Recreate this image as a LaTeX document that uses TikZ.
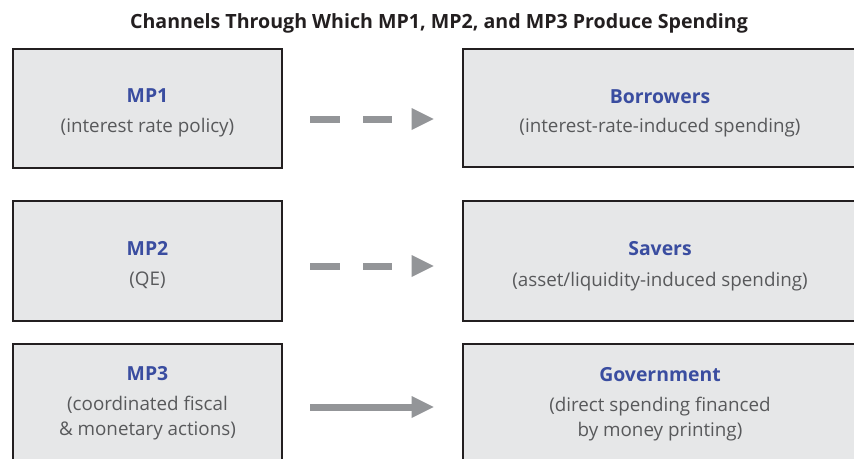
\documentclass[tikz,border=0pt]{standalone}
\usepackage{fontspec}
\setmainfont{Open Sans}
\usetikzlibrary{arrows.meta}
\definecolor{boxfill}{HTML}{E6E7E8}
\definecolor{boxline}{HTML}{231F20}
\definecolor{headblue}{HTML}{3A4DA0}
\definecolor{subgray}{HTML}{58595B}
\definecolor{arrowgray}{HTML}{939598}
\newcommand{\hd}[1]{{\bfseries\color{headblue}\fontsize{19.4}{22}\selectfont #1}}
\begin{document}
\begin{tikzpicture}[x=1pt,y=-1pt,
  chanbox/.style={draw=boxline, fill=boxfill, line width=2.6pt, inner sep=0pt},
  leftbox/.style={chanbox, minimum width=269pt},
  rightbox/.style={chanbox, minimum width=394pt},
  boxtext/.style={inner sep=0pt, align=center, text=subgray, font=\fontsize{18.8}{25}\selectfont},
  arr/.style={draw=arrowgray, line width=7pt,
    -{Triangle[length=22pt,width=22pt,line width=0pt]},
    shorten <=27pt, shorten >=28pt},
  dasharr/.style={arr, dash pattern=on 30pt off 23pt on 29pt off 80pt}]
\useasboundingbox (0,0) rectangle (854,458);
\clip (0,0) rectangle (854,458);
\fill[white] (0,0) rectangle (854,458);
\node[font=\bfseries\fontsize{19.6}{22}\selectfont, text=boxline] (title) at (439,23)
  {Channels Through Which MP1, MP2, and MP3 Produce Spending};
% row 1
\node[leftbox, minimum height=119pt] (mp1) at (147.5,108.5) {};
\node[rightbox, minimum height=118pt] (bor) at (660,108) {};
\node[boxtext] (mp1t) at (147.5,113) {\hd{MP1}\\[4.5pt](interest rate policy)};
\node[boxtext] (bort) at (660,113.5) {\hd{Borrowers}\\[4.5pt](interest-rate-induced spending)};
% row 2
\node[leftbox, minimum height=120pt] (mp2) at (147.5,261) {};
\node[rightbox, minimum height=120pt] (sav) at (660,261) {};
\node[boxtext] (mp2t) at (147.5,265) {\hd{MP2}\\[5.5pt](QE)};
\node[boxtext] (savt) at (660,266) {\hd{Savers}\\[5.5pt](asset/liquidity-induced spending)};
% row 3
\node[leftbox, minimum height=120pt] (mp3) at (147.5,404) {};
\node[rightbox, minimum height=120pt] (gov) at (660,404) {};
\node[boxtext] (mp3t) at (147.5,403.5) {\hd{MP3}\\[5pt](coordinated fiscal\\\& monetary actions)};
\node[boxtext] (govt) at (660,404.5) {\hd{Government}\\[5pt](direct spending financed\\by money printing)};
% arrows
\draw[dasharr] ([yshift=-10.5pt]mp1.east) -- ([yshift=-11pt]bor.west);
\draw[dasharr] ([yshift=-5pt]mp2.east) -- ([yshift=-5pt]sav.west);
\draw[arr] ([yshift=-3pt]mp3.east) -- ([yshift=-3pt]gov.west);
\end{tikzpicture}
\end{document}
